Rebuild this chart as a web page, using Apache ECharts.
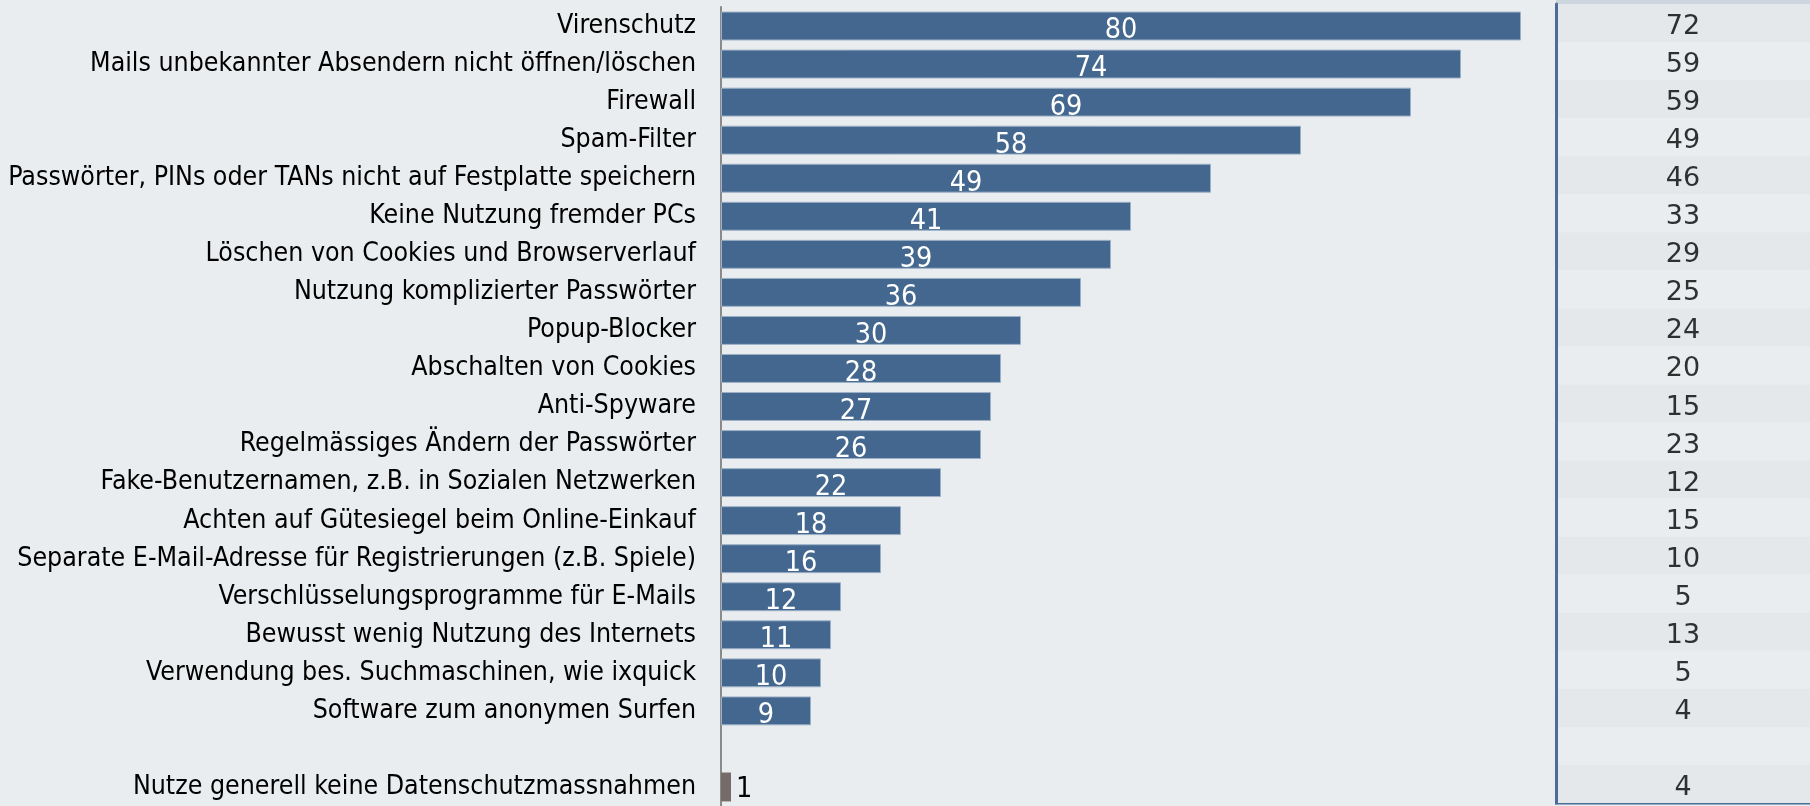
<!DOCTYPE html>
<html>
<head>
<meta charset="utf-8">
<script src="https://cdn.jsdelivr.net/npm/echarts@6/dist/echarts.min.js"></script>
<style>
html, body { margin: 0; padding: 0; background: #eaedef; }
#chart { width: 1810px; height: 806px; }
</style>
</head>
<body>
<div id="chart"></div>
<script>
// Kategorien (von oben nach unten)
var categories = [
	'Virenschutz',
	'Mails unbekannter Absendern nicht öffnen/löschen',
	'Firewall',
	'Spam-Filter',
	'Passwörter, PINs oder TANs nicht auf Festplatte speichern',
	'Keine Nutzung fremder PCs',
	'Löschen von Cookies und Browserverlauf',
	'Nutzung komplizierter Passwörter',
	'Popup-Blocker',
	'Abschalten von Cookies',
	'Anti-Spyware',
	'Regelmässiges Ändern der Passwörter',
	'Fake-Benutzernamen, z.B. in Sozialen Netzwerken',
	'Achten auf Gütesiegel beim Online-Einkauf',
	'Separate E-Mail-Adresse für Registrierungen (z.B. Spiele)',
	'Verschlüsselungsprogramme für E-Mails',
	'Bewusst wenig Nutzung des Internets',
	'Verwendung bes. Suchmaschinen, wie ixquick',
	'Software zum anonymen Surfen',
	'',
	'Nutze generell keine Datenschutzmassnahmen'
];
// aktuelle Werte (Balken)
var currentValues = [80, 74, 69, 58, 49, 41, 39, 36, 30, 28, 27, 26, 22, 18, 16, 12, 11, 10, 9, null, 1];
// Vorjahreswerte (rechte Spalte)
var previousValues = [72, 59, 59, 49, 46, 33, 29, 25, 24, 20, 15, 23, 12, 15, 10, 5, 13, 5, 4, null, 4];
var tableColumn = ['Vorjahr'];

var myChart = echarts.init(document.getElementById('chart'));

var barData = [];
for (var i = 0; i < currentValues.length; i++) {
	var v = currentValues[i];
	if (i === currentValues.length - 1) {
		// letzter Balken grau, Wert rechts daneben
		barData.push({
			value: v,
			itemStyle: {color: '#756b68', borderWidth: 0},
			label: {position: 'right', color: '#000', distance: 5, offset: [0, 3]}
		});
	} else {
		barData.push(v);
	}
}

var tableData = [];
for (var j = 0; j < previousValues.length; j++) {
	if (previousValues[j] !== null) {
		tableData.push([0, j, previousValues[j]]);
	}
}

var option = {
	backgroundColor: '#eaedef',
	animation: false,
	graphic: [{
		type: 'rect',
		shape: {x: 1556, y: 0, width: 260, height: 4},
		style: {fill: '#cdd5de'}
	}, {
		type: 'line',
		shape: {x1: 1555, y1: 803, x2: 1810, y2: 803},
		style: {stroke: '#4a6d9a', lineWidth: 3}
	}],
	grid: [
		{left: 721, top: 7, width: 1000, height: 804},
		{left: 1556, top: 4, right: 0, height: 799}
	],
	xAxis: [
		{gridIndex: 0, type: 'value', min: 0, max: 100, show: false},
		{gridIndex: 1, type: 'category', data: tableColumn, show: false}
	],
	yAxis: [
		{
			gridIndex: 0,
			type: 'category',
			inverse: true,
			data: categories,
			axisLine: {lineStyle: {color: '#8a8a8a', width: 2}},
			axisTick: {length: 8, lineStyle: {color: '#8a8a8a', width: 2}},
			axisLabel: {
				fontFamily: 'DejaVu Sans Condensed',
				fontSize: 26.5,
				color: '#000',
				margin: 25
			},
			splitLine: {show: false}
		},
		{
			gridIndex: 1,
			type: 'category',
			inverse: true,
			data: categories,
			axisLine: {show: true, lineStyle: {color: '#4a6d9a', width: 3}},
			axisTick: {show: false},
			axisLabel: {show: false},
			splitLine: {show: false},
			splitArea: {show: true, areaStyle: {color: ['#e5e8eb', '#eaedef']}}
		}
	],
	series: [
		{
			type: 'bar',
			xAxisIndex: 0,
			yAxisIndex: 0,
			data: barData,
			barCategoryGap: '24%',
			itemStyle: {color: '#43678f', borderColor: '#9cb0c6', borderWidth: 1},
			label: {
				show: true,
				position: 'inside',
				color: '#fff',
				fontFamily: 'DejaVu Sans Condensed',
				fontSize: 28.5,
				offset: [0, 5]
			}
		},
		{
			type: 'scatter',
			xAxisIndex: 1,
			yAxisIndex: 1,
			data: tableData,
			symbolSize: 1,
			itemStyle: {color: 'rgba(0,0,0,0)'},
			label: {
				show: true,
				position: 'inside',
				color: '#000',
				fontFamily: 'DejaVu Sans',
				fontSize: 27,
				offset: [0, 4],
				formatter: function (p) { return p.value[2]; }
			}
		}
	]
};
myChart.setOption(option);
</script>
</body>
</html>
